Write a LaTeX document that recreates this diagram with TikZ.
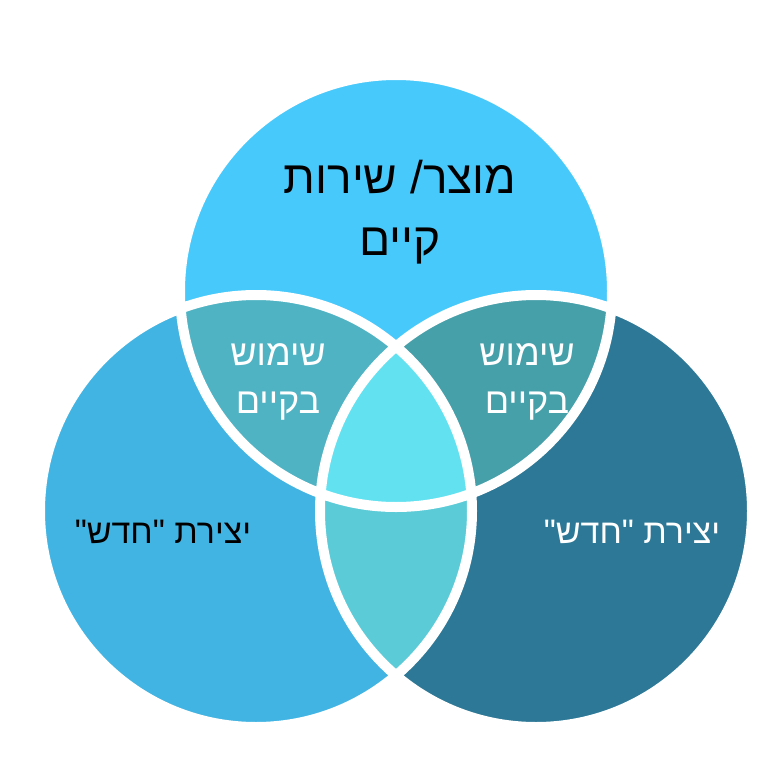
\documentclass[tikz,border=0pt]{standalone}
\usepackage{fontspec}
\newfontfamily\heb[Script=Hebrew]{Liberation Sans}
\TeXXeTstate=1
\definecolor{cT}{HTML}{48C9FC}
\definecolor{cL}{HTML}{42B4E3}
\definecolor{cR}{HTML}{2C7896}
\definecolor{cTL}{HTML}{4FB3C4}
\definecolor{cTR}{HTML}{45A0AA}
\definecolor{cLR}{HTML}{5BCBD8}
\definecolor{cC}{HTML}{62E1F0}
\begin{document}
\begin{tikzpicture}[x=1pt,y=-1pt,
  lbl/.style={font=\heb, align=center}]
\useasboundingbox (0,0) rectangle (768,768);
\def\T{(396,291) circle (216)}
\def\L{(256,511) circle (216)}
\def\R{(536,511) circle (216)}
\fill[cT] \T; \fill[cL] \L; \fill[cR] \R;
\begin{scope}\clip \T; \fill[cTL] \L; \end{scope}
\begin{scope}\clip \T; \fill[cTR] \R; \end{scope}
\begin{scope}\clip \L; \fill[cLR] \R; \end{scope}
\begin{scope}\clip \T; \clip \L; \fill[cC] \R; \end{scope}
\draw[white, line width=10] \T \L \R;
\node[lbl, font=\heb\fontsize{46}{62}\selectfont] (t) at (400,212) {\beginR מוצר/ שירות\endR\\\beginR קיים\endR};
\node[lbl, white, font=\heb\fontsize{36}{48}\selectfont] (a) at (278,382) {\beginR שימוש\endR\\\beginR בקיים\endR};
\node[lbl, white, font=\heb\fontsize{36}{48}\selectfont] (b) at (527,382) {\beginR שימוש\endR\\\beginR בקיים\endR};
\node[lbl, font=\heb\fontsize{34}{40}\selectfont] (l) at (163,532) {\beginR יצירת "חדש"\endR};
\node[lbl, white, font=\heb\fontsize{34}{40}\selectfont] (r) at (632,532) {\beginR יצירת "חדש"\endR};
\end{tikzpicture}
\end{document}
